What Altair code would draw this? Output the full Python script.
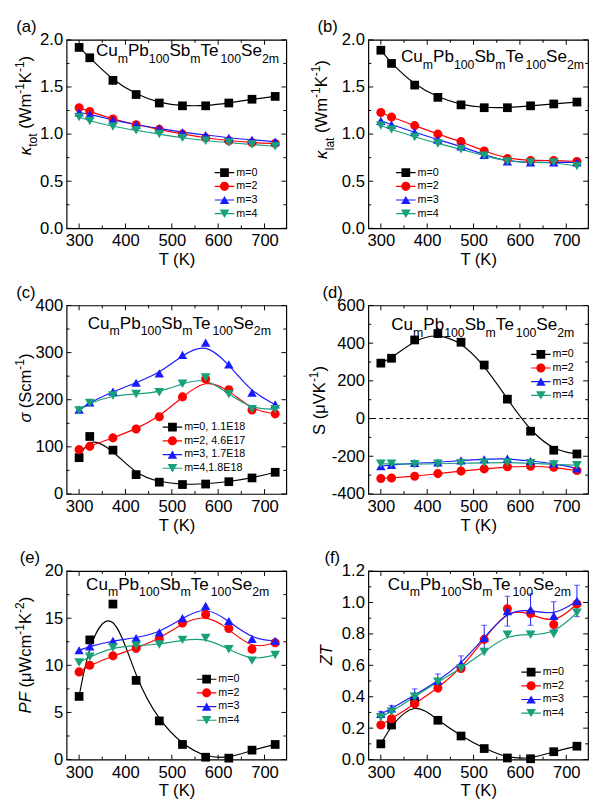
import altair as alt
import pandas as pd

# ---------------- data ----------------
T = [300, 323, 373, 423, 473, 523, 573, 623, 673, 723]
LABELS = ["m=0", "m=2", "m=3", "m=4"]
LABELS_C = ["m=0, 1.1E18", "m=2, 4.6E17", "m=3, 1.7E18", "m=4,1.8E18"]

ktot_m0 = [1.92, 1.81, 1.57, 1.42, 1.33, 1.30, 1.30, 1.33, 1.37, 1.40]
ktot_m2 = [1.28, 1.24, 1.16, 1.10, 1.05, 1.00, 0.96, 0.93, 0.91, 0.90]
ktot_m3 = [1.23, 1.21, 1.15, 1.10, 1.06, 1.02, 0.99, 0.96, 0.94, 0.92]
ktot_m4 = [1.18, 1.14, 1.08, 1.04, 1.00, 0.96, 0.93, 0.91, 0.89, 0.87]

klat_m0 = [1.89, 1.75, 1.52, 1.39, 1.31, 1.28, 1.28, 1.30, 1.32, 1.34]
klat_m2 = [1.23, 1.18, 1.09, 1.00, 0.92, 0.82, 0.74, 0.72, 0.72, 0.71]
klat_m3 = [1.14, 1.10, 1.02, 0.94, 0.87, 0.78, 0.71, 0.70, 0.70, 0.70]
klat_m4 = [1.09, 1.05, 0.97, 0.90, 0.84, 0.77, 0.71, 0.70, 0.70, 0.66]

sig_m0 = [77, 122, 93, 41, 25, 20, 21, 26, 34, 46]
sig_m2 = [94, 101, 119, 138, 164, 206, 244, 221, 178, 170]
sig_m3 = [179, 194, 217, 236, 256, 295, 321, 275, 215, 190]
sig_m4 = [177, 193, 209, 212, 216, 234, 247, 212, 180, 180]

see_m0 = [294, 320, 417, 451, 405, 284, 103, -67, -168, -188]
see_m2 = [-318, -315, -306, -292, -279, -267, -256, -253, -258, -276]
see_m3 = [-253, -246, -236, -233, -222, -216, -212, -225, -238, -265]
see_m4 = [-240, -240, -242, -240, -237, -235, -233, -237, -243, -248]

pf_m0 = [6.7, 12.7, 16.5, 8.4, 4.1, 1.6, 0.25, 0.15, 1.0, 1.6]
pf_m2 = [9.3, 10.0, 11.0, 11.8, 12.8, 14.5, 15.4, 13.9, 11.7, 12.4]
pf_m3 = [11.6, 12.0, 12.6, 12.9, 13.5, 15.0, 16.3, 14.7, 12.8, 12.6]
pf_m4 = [10.3, 10.9, 11.9, 12.1, 12.2, 12.7, 12.9, 11.7, 10.5, 11.1]

zt_m0 = [0.10, 0.22, 0.37, 0.25, 0.15, 0.07, 0.01, 0.005, 0.05, 0.085]
zt_m2 = [0.22, 0.26, 0.355, 0.455, 0.58, 0.765, 0.96, 0.93, 0.86, 0.99]
zt_m3 = [0.29, 0.325, 0.41, 0.50, 0.61, 0.775, 0.945, 0.955, 0.915, 1.01]
zt_m4 = [0.27, 0.305, 0.40, 0.495, 0.58, 0.685, 0.795, 0.795, 0.80, 0.935]
zt_m3_err = [0.015, 0.02, 0.04, 0.045, 0.05, 0.08, 0.095, 0.10, 0.09, 0.10]

X_TICKS = [300, 400, 500, 600, 700]
X_MINOR = [350, 450, 550, 650]
X_DOMAIN = [273, 747]

# ---------------- style ----------------
COLORS = ["#000000", "#ff0000", "#1a1aff", "#17a07a"]
SHAPES = ["square", "circle", "triangle-up", "triangle-down"]
SIZES = [80, 100, 125, 125]
FONT = "Liberation Sans"
W, H = 225, 193
HS = H / 194.0
ONE = pd.DataFrame({"k": [0]})

ADV = {" ": 278, "(": 333, ")": 333, "-": 333, "=": 584, ",": 278, ".": 278,
       "C": 722, "E": 667, "F": 611, "K": 667, "P": 667, "S": 667, "T": 611,
       "V": 667, "W": 944, "Z": 611, "a": 556, "b": 556, "c": 500, "e": 556,
       "l": 222, "m": 833, "o": 556, "t": 278, "u": 556,
       "κ": 520, "σ": 580, "μ": 576}


def tw(s, fs):
    return sum(ADV.get(ch, 556) for ch in s) * fs / 1000.0


def piece_size(kind, fs):
    if kind == "n":
        return fs, 0.0
    if kind == "sub":
        return fs * 0.72, fs * 0.40
    return fs * 0.72, -fs * 0.42


def rich_width(pieces, fs):
    return sum(tw(t, piece_size(k, fs)[0]) for t, k, _ in pieces)


def rich_text(pieces, x0, y0, fs, angle=0):
    layers = []
    adv = 0.0
    for txt, kind, italic in pieces:
        size, shift = piece_size(kind, fs)
        stripped = txt.lstrip(" ")
        adv += tw(txt[:len(txt) - len(stripped)], size)
        if angle == 0:
            x, y = x0 + adv, y0 + shift
        else:
            x, y = x0 + shift, y0 - adv
        layers.append(
            alt.Chart(ONE).mark_text(
                text=stripped, font=FONT, fontSize=size,
                fontStyle="italic" if italic else "normal",
                align="left", baseline="alphabetic", angle=angle, color="black"
            ).encode(x=alt.value(x), y=alt.value(y))
        )
        adv += tw(stripped, size)
    return layers


FORMULA = [("Cu", "n", False), ("m", "sub", False), ("Pb", "n", False),
           ("100", "sub", False), ("Sb", "n", False), ("m", "sub", False),
           ("Te", "n", False), ("100", "sub", False), ("Se", "n", False),
           ("2m", "sub", False)]


def panel(series, labels, ydom, yticks, yminor, yexpr, letter, letter_x,
          formula_xy, ytitle, ytitle_x, ytitle_c, legend_xy, legend_fs=11,
          zero_line=False, err=None):
    xs = alt.Scale(domain=X_DOMAIN, nice=False, zero=False)
    ys = alt.Scale(domain=ydom, nice=False, zero=False)
    x_axis = alt.Axis(values=X_TICKS, title="T (K)", ticks=False, domain=False,
                      grid=False, labelPadding=5, titlePadding=3, labelFontSize=17,
                      titleFontSize=17, labelFlush=False, labelOverlap=False,
                      format="d")
    y_axis = alt.Axis(values=yticks, title=None, ticks=False, domain=False,
                      grid=False, labelPadding=4, labelFontSize=17,
                      labelFlush=False, labelOverlap=False, labelExpr=yexpr)

    def X(f):
        return alt.X(f, scale=xs, axis=x_axis)

    def Y(f):
        return alt.Y(f, scale=ys, axis=y_axis)

    pt_labels = [lab + " " for lab in labels]
    rows = []
    for lab, plab, vals in zip(labels, pt_labels, series):
        for t, v in zip(T, vals):
            rows.append({"T": t, "v": v, "s": lab, "p": plab})
    df = pd.DataFrame(rows)

    ch = 13.3
    lx, ly = legend_xy
    leg_line = alt.Legend(orient="none", legendX=lx - 11, legendY=ly * HS - ch / 2,
                          title=None, symbolType="stroke", symbolSize=400,
                          symbolStrokeWidth=1.2, labelFont=FONT,
                          labelFontSize=legend_fs, labelOffset=1,
                          labelColor="black", clipHeight=ch, rowPadding=0,
                          padding=0)
    leg_pt = alt.Legend(orient="none", legendX=lx - 11, legendY=ly * HS - ch / 2,
                        title=None, symbolSize=90, symbolStrokeWidth=0,
                        symbolOffset=5.5, labelFont=FONT, labelFontSize=legend_fs,
                        labelExpr="''", clipHeight=ch, rowPadding=0, padding=0,
                        symbolOpacity=1)

    layers = []
    layers.append(alt.Chart(df).mark_line(interpolate="basis", strokeWidth=1.2).encode(
        x=X("T:Q"), y=Y("v:Q"),
        stroke=alt.Stroke("s:N", scale=alt.Scale(domain=labels, range=COLORS), legend=leg_line),
        detail="s:N"))
    # inward ticks on all four sides
    dx_major = pd.DataFrame({"v": X_TICKS})
    dx_minor = pd.DataFrame({"v": X_MINOR})
    dy_major = pd.DataFrame({"v": yticks})
    dy_minor = pd.DataFrame({"v": yminor})
    for d, ln in ((dx_major, 5), (dx_minor, 3)):
        for y1, y2 in ((H, H - ln), (0, ln)):
            layers.append(alt.Chart(d).mark_rule(color="black", strokeWidth=1).encode(
                x=X("v:Q"), y=alt.value(y1), y2=alt.value(y2)))
    for d, ln in ((dy_major, 5), (dy_minor, 3)):
        for x1, x2 in ((0, ln), (W, W - ln)):
            layers.append(alt.Chart(d).mark_rule(color="black", strokeWidth=1).encode(
                y=Y("v:Q"), x=alt.value(x1), x2=alt.value(x2)))
    # invisible left anchor so every panel has the same bounds
    layers.append(alt.Chart(ONE).mark_rule(opacity=0).encode(
        x=alt.value(-59), x2=alt.value(-59), y=alt.value(H / 2), y2=alt.value(H / 2 + 1)))
    if zero_line:
        layers.append(alt.Chart(pd.DataFrame({"z": [0]})).mark_rule(
            color="black", strokeWidth=1, strokeDash=[4, 3]).encode(y=Y("z:Q")))
    if err is not None:
        vals_e, errs = err
        de = pd.DataFrame({"T": T, "lo": [v - e for v, e in zip(vals_e, errs)],
                           "hi": [v + e for v, e in zip(vals_e, errs)]})
        layers.append(alt.Chart(de).mark_rule(color=COLORS[2], strokeWidth=1).encode(
            x=X("T:Q"), y=Y("lo:Q"), y2="hi:Q"))
        for f in ("lo", "hi"):
            layers.append(alt.Chart(de).mark_tick(color=COLORS[2], thickness=1, size=6,
                                                  orient="horizontal").encode(
                x=X("T:Q"), y=Y(f + ":Q")))
    layers.append(alt.Chart(df).mark_point(filled=True, opacity=1, strokeWidth=0).encode(
        x=X("T:Q"), y=Y("v:Q"),
        color=alt.Color("p:N", scale=alt.Scale(domain=pt_labels, range=COLORS), legend=leg_pt),
        shape=alt.Shape("p:N", scale=alt.Scale(domain=pt_labels, range=SHAPES), legend=leg_pt),
        size=alt.Size("p:N", scale=alt.Scale(domain=pt_labels, range=SIZES), legend=None)))
    fx, fy = formula_xy
    layers += rich_text(FORMULA, fx, fy, 17.5)
    yw = rich_width(ytitle, 17)
    layers += rich_text(ytitle, ytitle_x, ytitle_c * HS + yw / 2, 17, angle=270)
    layers.append(alt.Chart(ONE).mark_text(text=letter, font=FONT, fontSize=17,
                                           align="left", baseline="alphabetic",
                                           color="black").encode(
        x=alt.value(letter_x), y=alt.value(-8)))
    return alt.layer(*layers).properties(width=W, height=H)


FMT1 = "format(datum.value, '.1f')"
FMT0 = "'' + datum.value"

K_UNIT = [(" (Wm", "n", False), ("-1", "sup", False), ("K", "n", False),
          ("-1", "sup", False), (")", "n", False)]

pa = panel([ktot_m0, ktot_m2, ktot_m3, ktot_m4], LABELS, [0, 2.0],
           [0, 0.5, 1.0, 1.5, 2.0], [0.25, 0.75, 1.25, 1.75], FMT1,
           "(a)", -51.6, (30, 16.7),
           [("κ", "n", True), ("tot", "sub", False)] + K_UNIT, -36.6, 67.7,
           (161.7, 136.7))
pb = panel([klat_m0, klat_m2, klat_m3, klat_m4], LABELS, [0, 2.0],
           [0, 0.5, 1.0, 1.5, 2.0], [0.25, 0.75, 1.25, 1.75], FMT1,
           "(b)", -52, (33.4, 22.7),
           [("κ", "n", True), ("lat", "sub", False)] + K_UNIT, -42, 71.7,
           (38.4, 136.7))
pc = panel([sig_m0, sig_m2, sig_m3, sig_m4], LABELS_C, [0, 400],
           [0, 100, 200, 300, 400], [50, 150, 250, 350], FMT0,
           "(c)", -51.6, (21.7, 23.7),
           [("σ", "n", True), (" (Scm", "n", False), ("-1", "sup", False), (")", "n", False)],
           -36.6, 85, (108.4, 125.3))
pd_ = panel([see_m0, see_m2, see_m3, see_m4], LABELS, [-400, 600],
            [-400, -200, 0, 200, 400, 600], [-300, -100, 100, 300, 500], FMT0,
            "(d)", -47, (23.4, 25.3),
            [("S", "n", False), (" (μVK", "n", False), ("-1", "sup", False), (")", "n", False)],
            -44, 97.8, (176.7, 50.3), zero_line=True)
pe = panel([pf_m0, pf_m2, pf_m3, pf_m4], LABELS, [0, 20],
           [0, 5, 10, 15, 20], [2.5, 7.5, 12.5, 17.5], FMT0,
           "(e)", -48, (20, 19),
           [("PF", "n", True), (" (μWcm", "n", False), ("-1", "sup", False),
            ("K", "n", False), ("-2", "sup", False), (")", "n", False)],
           -36.6, 86.5, (143.4, 111.3))
pf_ = panel([zt_m0, zt_m2, zt_m3, zt_m4], LABELS, [0, 1.2],
            [0, 0.2, 0.4, 0.6, 0.8, 1.0, 1.2], [0.1, 0.3, 0.5, 0.7, 0.9, 1.1], FMT1,
            "(f)", -45, (20, 19),
            [("ZT", "n", True)], -37, 86.5, (166.7, 104),
            err=(zt_m3, zt_m3_err))

chart = alt.concat(pa, pb, pc, pd_, pe, pf_, columns=2,
                   spacing={"row": 15, "column": 20}).resolve_scale(
    color="independent", stroke="independent", shape="independent",
    size="independent", x="independent", y="independent").resolve_legend(
    color="independent", stroke="independent", shape="independent",
    size="independent").configure_view(
    stroke="black", strokeWidth=1.2).configure_axis(
    labelFont=FONT, titleFont=FONT, labelColor="black", titleColor="black",
    titleFontWeight="normal").properties(padding=0)

chart.save("out.html", embed_options={"renderer": "svg", "actions": False})
